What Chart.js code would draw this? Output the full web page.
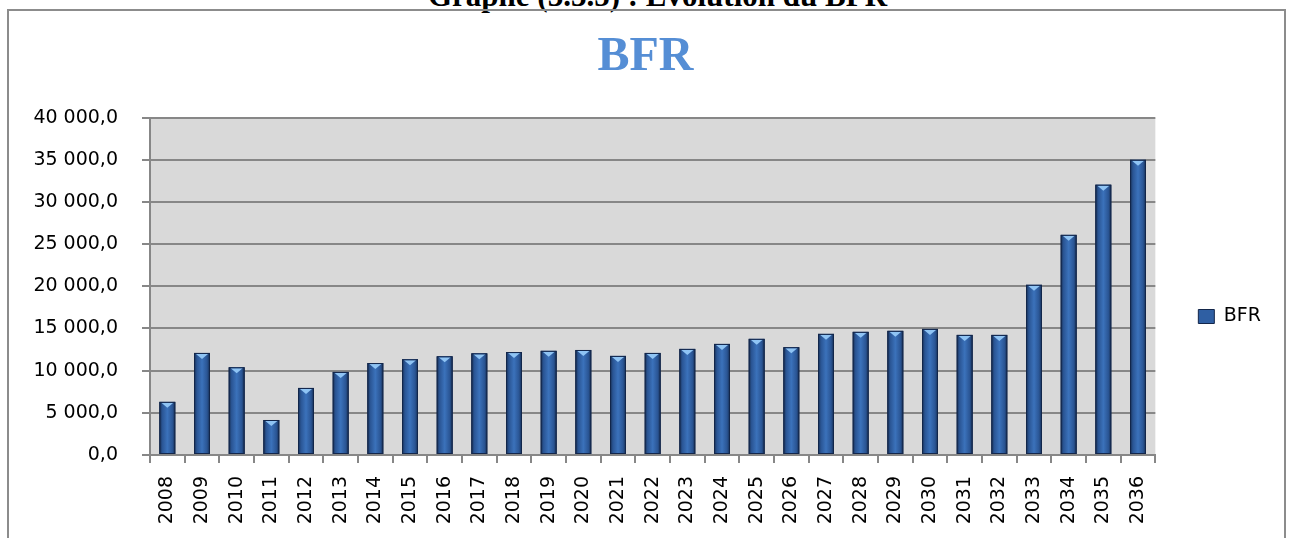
<!DOCTYPE html>
<html>
<head>
<meta charset="utf-8">
<script src="https://cdn.jsdelivr.net/npm/chart.js"></script>
<style>
	html, body { margin: 0; width: 1291px; height: 538px; overflow: hidden; }
	body { position: relative; background: #fff; }
	#caption { position: absolute; left: 428px; top: -20px; font: bold 31px 'Liberation Serif'; line-height: 31px; white-space: nowrap; color: #000; }
	#frame { position: absolute; left: 7px; top: 9px; width: 1279px; height: 560px; box-sizing: border-box; border: 2px solid #8c8c8c; border-bottom: none; }
	#holder { position: absolute; left: 0; top: 0; }
</style>
</head>
<body>
<div id="caption">Graphe (3.3.5) : Evolution du BFR</div>
<div id="frame"></div>
<div id="holder"><canvas id="myChart" width="1291" height="538"></canvas></div>
<script>
var years = [ "2008", "2009", "2010", "2011", "2012", "2013", "2014", "2015",
		"2016", "2017", "2018", "2019", "2020", "2021", "2022", "2023", "2024",
		"2025", "2026", "2027", "2028", "2029", "2030", "2031", "2032", "2033",
		"2034", "2035", "2036" ];
var bfr = [ 6300, 12100, 10400, 4150, 7950, 9850, 10900, 11350, 11700, 12050,
		12200, 12350, 12450, 11750, 12100, 12580, 13170, 13770, 12780, 14360,
		14600, 14720, 14950, 14240, 14240, 20180, 26100, 32050, 35000 ];
var yTicks = [ 0, 5000, 10000, 15000, 20000, 25000, 30000, 35000, 40000 ];

var chart;
var gridColor = "#878787";
var tickFont = { family: "DejaVu Sans", size: 19 };

function formatNumber(value) {
	var s = Math.round(value).toString().replace(/\B(?=(\d{3})+(?!\d))/g, " ");
	return s + ",0";
}

// grey plot area behind the bars
var plotBackground = {
	id : "plotBackground",
	beforeDraw : function(chart) {
		var area = chart.chartArea;
		var c = chart.ctx;
		c.save();
		c.fillStyle = "#d9d9d9";
		c.fillRect(area.left, area.top, area.right - area.left, area.bottom - area.top);
		c.restore();
	}
};

// cylinder-like shading and the light notch on top of each bar
var barShading = {
	id : "barShading",
	afterDatasetsDraw : function(chart) {
		var c = chart.ctx;
		var meta = chart.getDatasetMeta(0);
		c.save();
		meta.data.forEach(function(bar) {
			var p = bar.getProps([ "x", "y", "base", "width" ], true);
			var l = p.x - p.width / 2;
			var r = p.x + p.width / 2;
			var g = c.createLinearGradient(l, 0, r, 0);
			g.addColorStop(0, "#172e52");
			g.addColorStop(0.18, "#2a5594");
			g.addColorStop(0.5, "#3b72bb");
			g.addColorStop(0.82, "#2a5594");
			g.addColorStop(1, "#172e52");
			c.fillStyle = g;
			c.fillRect(l, p.y, p.width, p.base - p.y);
			c.fillStyle = "#8fc4f4";
			c.beginPath();
			c.moveTo(l + 2, p.y + 1);
			c.lineTo(r - 2, p.y + 1);
			c.lineTo(p.x, p.y + 6);
			c.closePath();
			c.fill();
			c.strokeStyle = "#13264a";
			c.lineWidth = 1;
			c.strokeRect(l + 0.5, p.y + 0.5, p.width - 1, p.base - p.y - 1);
		});
		c.restore();
	}
};

function drawChart() {
	var canvas = document.getElementById("myChart");
	var ctx = canvas.getContext("2d");
	chart = new Chart(ctx, {
		type : "bar",
		data : {
			labels : years,
			datasets : [ {
				label : "BFR",
				data : bfr,
				backgroundColor : "#2f5fa3",
				borderColor : "#13264a",
				borderWidth : 1,
				categoryPercentage : 1,
				barPercentage : 0.46
			} ]
		},
		options : {
			responsive : false,
			animation : false,
			layout : { padding : { left : 20, right : 20, top : 0, bottom : 0 } },
			plugins : {
				tooltip : { enabled : false },
				title : {
					display : true,
					text : "BFR",
					color : "#558ed5",
					font : { family : "Liberation Serif", size : 48, weight : "bold" },
					padding : { top : 29, bottom : 31 }
				},
				legend : {
					position : "right",
					fullSize : false,
					title : { display : true, text : "", padding : { top : 46, bottom : 0 } },
					labels : {
						boxWidth : 16,
						boxHeight : 14,
						padding : 43,
						color : "#000",
						font : tickFont
					}
				}
			},
			scales : {
				x : {
					offset : true,
					grid : {
						offset : true,
						drawOnChartArea : false,
						color : gridColor,
						lineWidth : 2,
						tickLength : 8
					},
					border : { color : gridColor, width : 2 },
					ticks : {
						minRotation : 90,
						maxRotation : 90,
						padding : 13,
						color : "#000",
						font : tickFont
					},
					afterFit : function(scale) {
						scale.height = 83;
					}
				},
				y : {
					min : 0,
					max : 40000,
					afterBuildTicks : function(scale) {
						scale.ticks = yTicks.map(function(v) { return { value : v }; });
					},
					grid : {
						color : gridColor,
						lineWidth : 2,
						tickLength : 8
					},
					border : { color : gridColor, width : 2 },
					ticks : {
						padding : 24,
						color : "#000",
						font : tickFont,
						callback : function(value) { return formatNumber(value); }
					},
					afterFit : function(scale) {
						scale.width = 130;
					}
				}
			}
		},
		plugins : [ plotBackground, barShading ]
	});
}

drawChart();
</script>
</body>
</html>
